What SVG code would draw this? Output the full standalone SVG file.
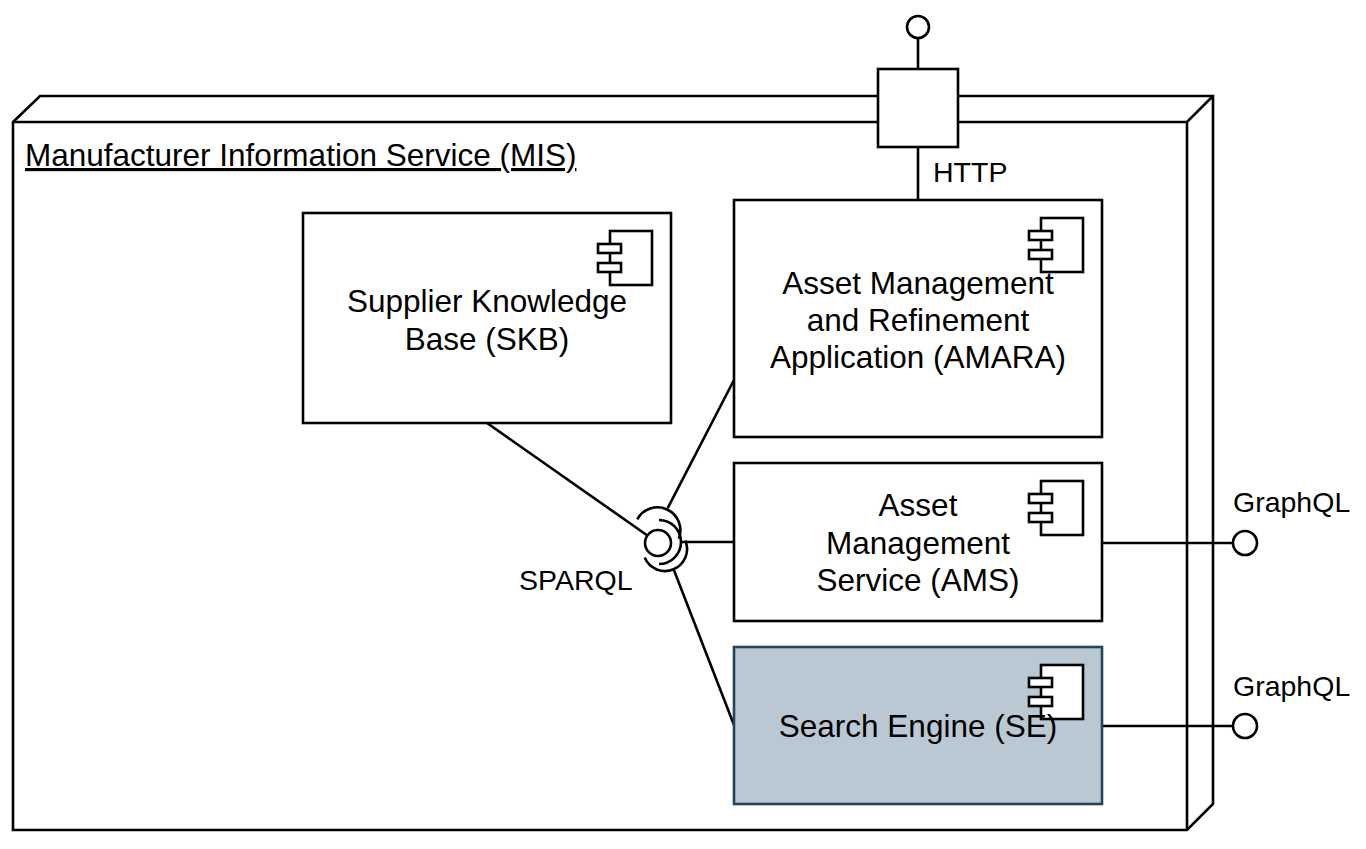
<svg xmlns="http://www.w3.org/2000/svg" width="1366" height="849" viewBox="0 0 1366 849">
<style>
.s{fill:none;stroke:#000;stroke-width:2.6;}
.w{fill:#fff;stroke:#000;stroke-width:2.6;}
.t{font-family:"Liberation Sans",Arial,sans-serif;font-size:31.5px;fill:#000;}
.c{text-anchor:middle;}
.l{font-family:"Liberation Sans",Arial,sans-serif;font-size:28.5px;fill:#000;}
</style>
<defs>
<g id="icon">
<rect class="w" x="0" y="0" width="42" height="54"/>
<rect class="w" x="-12" y="13" width="23" height="9"/>
<rect class="w" x="-12" y="32" width="23" height="9"/>
</g>
</defs>
<rect width="1366" height="849" fill="#fff"/>

<g id="mis">
<path class="w" d="M13,122 L40,96 L1213,96 L1213,804 L1187,830 L13,830 Z"/>
<path class="s" d="M13,122 L1187,122 L1213,96 M1187,122 L1187,830"/>
<text class="t" x="25" y="166" font-size="31.7" text-decoration="underline">Manufacturer Information Service (MIS)</text>
</g>

<g id="connectors">
<line class="s" x1="918" y1="147" x2="918" y2="200"/>
<line class="s" x1="918" y1="38" x2="918" y2="69"/>
<line class="s" x1="487" y1="423" x2="647.4" y2="535.5"/>
<line class="s" x1="734" y1="380" x2="667.7" y2="508.2"/>
<line class="s" x1="734" y1="542" x2="681" y2="542"/>
<line class="s" x1="734" y1="725" x2="673.6" y2="569.3"/>
<line class="s" x1="1102" y1="543" x2="1233" y2="543"/>
<line class="s" x1="1102" y1="726" x2="1233" y2="726"/>
</g>

<g id="http-port">
<rect class="w" x="878" y="69" width="80" height="78"/>
<circle class="w" cx="918" cy="27" r="11"/>
<text class="l" x="933" y="182">HTTP</text>
</g>

<g id="skb">
<rect class="w" x="303" y="213" width="368" height="210"/>
<use href="#icon" x="610" y="231"/>
<text class="t c" x="487" y="312">Supplier Knowledge</text>
<text class="t c" x="487" y="350">Base (SKB)</text>
</g>

<g id="amara">
<rect class="w" x="734" y="200" width="368" height="237"/>
<use href="#icon" x="1041" y="218"/>
<text class="t c" x="918" y="294">Asset Management</text>
<text class="t c" x="918" y="331">and Refinement</text>
<text class="t c" x="918" y="368">Application (AMARA)</text>
</g>

<g id="ams">
<rect class="w" x="734" y="463" width="368" height="158"/>
<use href="#icon" x="1041" y="481"/>
<text class="t c" x="918" y="516">Asset</text>
<text class="t c" x="918" y="554">Management</text>
<text class="t c" x="918" y="591">Service (AMS)</text>
</g>

<g id="se">
<rect x="734" y="647" width="368" height="157" fill="#bac8d3" stroke="#23445d" stroke-width="2.6"/>
<use href="#icon" x="1041" y="665"/>
<text class="t c" x="918" y="737">Search Engine (SE)</text>
</g>

<g id="sparql">
<circle class="w" cx="658" cy="543" r="13"/>
<path class="s" d="M637.2,519.3 A23,23 0 0 1 678.8,538.7"/>
<path class="s" d="M659,520 A22,22 0 0 1 659,564"/>
<path class="s" d="M685.3,540.4 A22,22 0 0 1 644.7,557.6"/>
<text class="l" x="519" y="590">SPARQL</text>
</g>

<g id="graphql-ams">
<circle class="w" cx="1245" cy="543" r="12"/>
<text class="l" x="1233" y="512">GraphQL</text>
</g>

<g id="graphql-se">
<circle class="w" cx="1245" cy="726" r="12"/>
<text class="l" x="1233" y="696">GraphQL</text>
</g>
</svg>
